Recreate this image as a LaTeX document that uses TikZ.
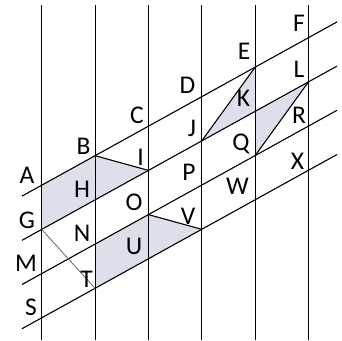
\documentclass[tikz,border=0pt]{standalone}
\usepackage{fontspec}
\setmainfont{Carlito}
\definecolor{shadec}{RGB}{221,223,235}
\tikzset{
  gridline/.style={line width=1.1pt, black},
  diagline/.style={line width=1.1pt, black},
  guideline/.style={line width=0.8pt, black!60},
  shadefill/.style={fill=shadec, draw=none},
  lab/.style={font=\fontsize{25.5}{25.5}\selectfont, inner sep=0pt, anchor=center}
}
\begin{document}
\begin{tikzpicture}[x=1pt,y=-1pt]
\useasboundingbox[fill=white] (0,0) rectangle (342,340);
% intersection points: line k (0..3), column i (0..5)
\foreach \k in {0,...,3}{
  \foreach \i in {0,...,5}{
    \coordinate (p\k\i) at ({41.7+53.35*\i},{185.2+44.2*\k-29.5*\i});
  }
}
\foreach \i in {0,...,5}{
  \coordinate (t\i) at ({41.7+53.35*\i},5);
  \coordinate (b\i) at ({41.7+53.35*\i},340);
}
\foreach \k in {0,...,3}{
  \coordinate (l\k) at (22,{196.1+44.2*\k});
  \coordinate (r\k) at (337,{21.9+44.2*\k});
}
% shaded regions
\fill[shadefill] (p00) -- (p01) -- (p12) -- (p10) -- cycle;
\fill[shadefill] (p21) -- (p22) -- (p33) -- (p31) -- cycle;
\fill[shadefill] (p13) -- (p04) -- (p14) -- cycle;
\fill[shadefill] (p14) -- (p15) -- (p24) -- cycle;
% grid lines
\foreach \i in {0,...,5}{ \draw[gridline] (t\i) -- (b\i); }
\foreach \k in {0,...,3}{ \draw[gridline] (l\k) -- (r\k); }
% diagonals
\draw[diagline] (p01) -- (p12);
\draw[diagline] (p22) -- (p33);
\draw[diagline] (p13) -- (p04);
\draw[diagline] (p24) -- (p15);
\draw[guideline] (p10) -- (p31);
% labels
\node[lab] (A) at (27,175) {A};
\node[lab] (B) at (83.5,146.5) {B};
\node[lab] (C) at (137,115) {C};
\node[lab] (D) at (187.5,85) {D};
\node[lab] (E) at (244,51.5) {E};
\node[lab] (F) at (299,23.5) {F};
\node[lab] (G) at (27,220) {G};
\node[lab] (H) at (82,189.5) {H};
\node[lab] (I) at (140.5,157.5) {I};
\node[lab] (J) at (192,128.5) {J};
\node[lab] (K) at (243.5,98.5) {K};
\node[lab] (L) at (299,69.5) {L};
\node[lab] (M) at (26,263.5) {M};
\node[lab] (N) at (82,233.5) {N};
\node[lab] (O) at (134,202.5) {O};
\node[lab] (P) at (189,172.5) {P};
\node[lab] (Q) at (241,144) {Q};
\node[lab] (R) at (299,115) {R};
\node[lab] (S) at (31,307) {S};
\node[lab] (T) at (86.5,279) {T};
\node[lab] (U) at (134,246.5) {U};
\node[lab] (V) at (188,216.5) {V};
\node[lab] (W) at (237.5,186) {W};
\node[lab] (X) at (297.5,161) {X};
\end{tikzpicture}
\end{document}
